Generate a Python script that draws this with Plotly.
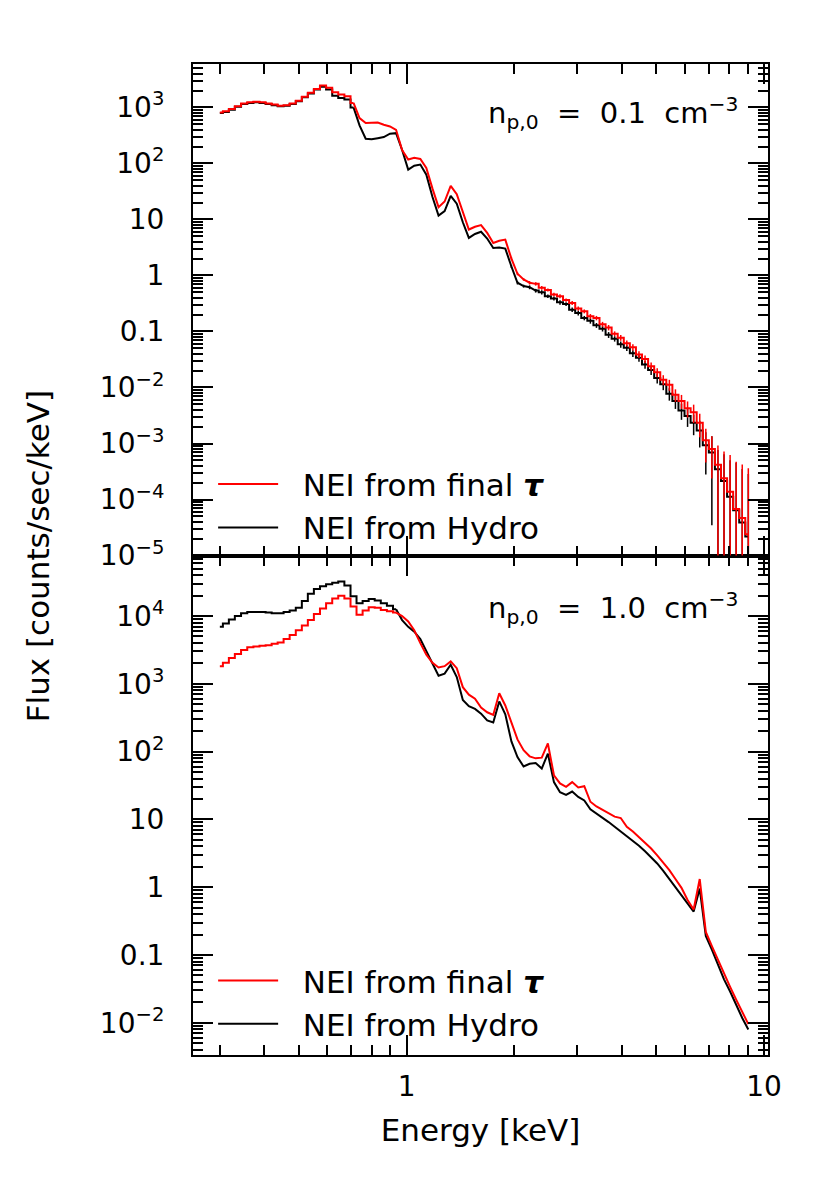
import plotly.graph_objects as go

# ---------------- data ----------------
energy_kev = [
    0.300, 0.312, 0.324, 0.337, 0.351, 0.365, 0.380, 0.395, 0.411, 0.427,
    0.444, 0.461, 0.480, 0.499, 0.519, 0.539, 0.561, 0.583, 0.607, 0.631,
    0.656, 0.683, 0.710, 0.738, 0.768, 0.798, 0.830, 0.863, 0.898, 0.934,
    0.971, 1.010, 1.050, 1.092, 1.135, 1.181, 1.228, 1.277, 1.328, 1.381,
    1.436, 1.493, 1.553, 1.615, 1.680, 1.747, 1.816, 1.888, 1.964, 2.042,
    2.124, 2.208, 2.296, 2.388, 2.484, 2.583, 2.686, 2.793, 2.905, 3.021,
    3.141, 3.267, 3.397, 3.533, 3.674, 3.820, 3.973, 4.131, 4.296, 4.468,
    4.646, 4.832, 5.025, 5.225, 5.434, 5.651, 5.876, 6.111, 6.355, 6.609,
    6.873, 7.147, 7.432, 7.729, 8.038, 8.359, 8.692, 9.039]

# top panel (n_p,0 = 0.1 cm^-3): log10 flux
top_final_log = [
    2.91, 2.93, 2.97, 3.02, 3.07, 3.09, 3.10, 3.09, 3.07, 3.05,
    3.03, 3.04, 3.07, 3.12, 3.19, 3.26, 3.33, 3.39, 3.35, 3.27,
    3.23, 3.20, 3.08, 2.81, 2.72, 2.72, 2.73, 2.69, 2.66, 2.60,
    2.24, 2.07, 2.10, 2.08, 1.92, 1.55, 1.22, 1.32, 1.60, 1.45,
    1.12, 0.82, 0.87, 0.90, 0.76, 0.58, 0.62, 0.64, 0.30, 0.03,
    -0.07, -0.13, -0.15, -0.22, -0.26, -0.34, -0.37, -0.44, -0.49, -0.59,
    -0.64, -0.73, -0.76, -0.87, -0.93, -1.04, -1.11, -1.21, -1.28, -1.41,
    -1.49, -1.62, -1.73, -1.86, -1.95, -2.13, -2.24, -2.37, -2.44, -2.63,
    -2.94, -3.10, -3.38, -3.62, -3.86, -4.17, -4.33, -4.62]
top_hydro_log = [
    2.90, 2.92, 2.96, 3.01, 3.06, 3.08, 3.09, 3.08, 3.06, 3.04,
    3.02, 3.03, 3.06, 3.11, 3.18, 3.25, 3.32, 3.37, 3.32, 3.21,
    3.17, 3.14, 3.00, 2.68, 2.44, 2.43, 2.45, 2.47, 2.53, 2.54,
    2.24, 1.89, 1.96, 1.98, 1.80, 1.40, 1.07, 1.15, 1.42, 1.28,
    0.95, 0.67, 0.74, 0.78, 0.66, 0.49, 0.50, 0.48, 0.16, -0.13,
    -0.19, -0.21, -0.27, -0.30, -0.37, -0.41, -0.48, -0.51, -0.61, -0.67,
    -0.76, -0.81, -0.89, -0.95, -1.06, -1.13, -1.23, -1.29, -1.39, -1.47,
    -1.59, -1.69, -1.83, -1.94, -2.11, -2.24, -2.41, -2.51, -2.63, -2.77,
    -3.03, -3.16, -3.46, -3.67, -3.95, -4.19, -4.41, -4.66]
# relative 1-sigma errors (fraction of flux)
top_final_err_frac = [0.0] * 48 + [
    0.05, 0.06, 0.05, 0.07, 0.06, 0.08, 0.06, 0.07, 0.08, 0.07,
    0.08, 0.09, 0.08, 0.10, 0.09, 0.10, 0.11, 0.10, 0.12, 0.12,
    0.13, 0.14, 0.15, 0.16, 0.18, 0.20, 0.22, 0.25, 0.28, 0.32,
    0.36, 0.45, 0.60, 0.70, 1.2, 2.0, 3.5, 6.0, 8.0, 14.0]
top_hydro_err_frac = [0.0] * 48 + [
    0.06, 0.07, 0.06, 0.08, 0.07, 0.09, 0.07, 0.08, 0.09, 0.08,
    0.09, 0.10, 0.09, 0.11, 0.10, 0.11, 0.12, 0.11, 0.13, 0.13,
    0.14, 0.15, 0.16, 0.18, 0.20, 0.22, 0.25, 0.28, 0.32, 0.36,
    0.40, 0.50, 0.70, 0.95, 1.2, 2.0, 3.5, 6.0, 8.0, 12.0]

# bottom panel (n_p,0 = 1.0 cm^-3): log10 flux
bot_final_log = [
    3.26, 3.31, 3.38, 3.44, 3.50, 3.54, 3.55, 3.56, 3.57, 3.59,
    3.61, 3.66, 3.72, 3.79, 3.86, 3.94, 4.03, 4.11, 4.19, 4.26,
    4.30, 4.26, 4.14, 4.02, 4.08, 4.13, 4.12, 4.09, 4.07, 4.05,
    4.00, 3.92, 3.79, 3.60, 3.43, 3.31, 3.24, 3.26, 3.33, 3.23,
    2.95, 2.84, 2.78, 2.65, 2.58, 2.54, 2.86, 2.68, 2.42, 2.18,
    2.02, 1.93, 1.90, 1.91, 2.12, 1.65, 1.53, 1.48, 1.55, 1.47,
    1.49, 1.26, 1.19, 1.14, 1.08, 1.04, 1.02, 0.89, 0.82, 0.74,
    0.66, 0.57, 0.47, 0.36, 0.25, 0.12, -0.01, -0.19, -0.33, 0.12,
    -0.66, -0.87, -1.07, -1.29, -1.47, -1.66, -1.85, -2.02]
bot_hydro_log = [
    3.84, 3.89, 3.95, 4.00, 4.04, 4.06, 4.06, 4.06, 4.05, 4.04,
    4.04, 4.06, 4.08, 4.12, 4.22, 4.33, 4.40, 4.44, 4.47, 4.49,
    4.51, 4.45, 4.29, 4.19, 4.22, 4.25, 4.23, 4.19, 4.15, 4.10,
    3.94, 3.84, 3.77, 3.66, 3.48, 3.31, 3.12, 3.15, 3.28, 3.10,
    2.76, 2.67, 2.63, 2.56, 2.46, 2.43, 2.74, 2.55, 2.15, 1.92,
    1.78, 1.82, 1.83, 1.75, 1.97, 1.55, 1.40, 1.36, 1.41, 1.33,
    1.28, 1.15, 1.09, 1.03, 0.96, 0.89, 0.82, 0.76, 0.69, 0.61,
    0.53, 0.44, 0.35, 0.24, 0.12, 0.00, -0.12, -0.25, -0.36, -0.02,
    -0.72, -0.92, -1.13, -1.36, -1.54, -1.74, -1.93, -2.10]

series_names = ["\u00a0\u00a0NEI from final <b><i>τ</i></b>", "\u00a0\u00a0NEI from Hydro"]
panel_labels = ["n<sub>p,0</sub>\u00a0 = \u00a00.1\u00a0 cm<sup>−3</sup>",
                "n<sub>p,0</sub>\u00a0 = \u00a01.0\u00a0 cm<sup>−3</sup>"]
y_title = "Flux [counts/sec/keV]"
x_title = "Energy [keV]"

x_major = [1, 10]
x_major_text = ["1", "10"]
x_minor = [0.3, 0.4, 0.5, 0.6, 0.7, 0.8, 0.9, 2, 3, 4, 5, 6, 7, 8, 9]

top_ytick_vals = [1e-5, 1e-4, 1e-3, 1e-2, 0.1, 1, 10, 100, 1000]
top_ytick_text = ["10<sup>−5</sup>", "10<sup>−4</sup>", "10<sup>−3</sup>",
                  "10<sup>−2</sup>", "0.1", "1", "10", "10<sup>2</sup>",
                  "10<sup>3</sup>"]
bot_ytick_vals = [1e-2, 0.1, 1, 10, 100, 1000, 1e4]
bot_ytick_text = ["10<sup>−2</sup>", "0.1", "1", "10", "10<sup>2</sup>",
                  "10<sup>3</sup>", "10<sup>4</sup>"]

# ---------------- figure ----------------
RED = "#ff0000"
BLACK = "#000000"
FONT = "DejaVu Sans"
FS = 28

# how each panel's spectrum is drawn: (first bin, last bin, line shape)
TOP_SEGMENTS = [(0, 22, "hvh"), (22, 52, "linear"), (52, 87, "hvh")]
BOT_SEGMENTS = [(0, 29, "hvh"), (29, 87, "linear")]


def flux(logs):
    return [10 ** v for v in logs]


fig = go.Figure()


def add_series(logs, name, color, rank, legend, xa, ya, segments, err_frac=None):
    vals = flux(logs)
    for k, (a, b, shape) in enumerate(segments):
        err = None
        if err_frac is not None and any(f > 0 for f in err_frac[a:b + 1]):
            err = dict(type="data",
                       array=[f * v for f, v in zip(err_frac[a:b + 1], vals[a:b + 1])],
                       color=color, thickness=1.5, width=0)
        fig.add_trace(go.Scatter(
            x=energy_kev[a:b + 1], y=vals[a:b + 1], mode="lines",
            line=dict(color=color, width=2, shape=shape),
            name=name, legend=legend, legendrank=rank, legendgroup=legend + name,
            showlegend=(k == 0), xaxis=xa, yaxis=ya, error_y=err))


# top panel
add_series(top_hydro_log, series_names[1], BLACK, 2, "legend", "x2", "y2",
           TOP_SEGMENTS, top_hydro_err_frac)
add_series(top_final_log, series_names[0], RED, 1, "legend", "x2", "y2",
           TOP_SEGMENTS, top_final_err_frac)
# bottom panel
add_series(bot_hydro_log, series_names[1], BLACK, 2, "legend2", "x", "y", BOT_SEGMENTS)
add_series(bot_final_log, series_names[0], RED, 1, "legend2", "x", "y", BOT_SEGMENTS)

tickfont = dict(family=FONT, size=FS, color="black")
x_common = dict(
    type="log", range=[-0.598, 1.0112], showline=True, linecolor="black", linewidth=2,
    mirror="allticks", ticks="inside", ticklen=20, tickwidth=2, tickcolor="black",
    tickmode="array", tickvals=x_major, ticktext=x_major_text, showgrid=False,
    zeroline=False, tickfont=tickfont,
    minor=dict(ticks="inside", ticklen=10, tickwidth=2, tickcolor="black",
               tickmode="array", tickvals=x_minor, showgrid=False))

y_minor_vals = [m * 10 ** e for e in range(-6, 6) for m in range(2, 10)]
y_common = dict(
    type="log", showline=True, linecolor="black", linewidth=2, mirror="allticks",
    ticks="inside", ticklen=20, tickwidth=2, tickcolor="black", tickmode="array",
    showgrid=False, zeroline=False, tickfont=tickfont, ticklabelstandoff=21,
    minor=dict(ticks="inside", ticklen=10, tickwidth=1.5, tickcolor="black",
               tickmode="array", tickvals=y_minor_vals, showgrid=False))

LEG_FS = 31
fig.update_layout(
    width=830, height=1180,
    margin=dict(l=185, r=70, t=56, b=133),
    paper_bgcolor="white", plot_bgcolor="white",
    font=dict(family=FONT, size=FS, color="black"),
    xaxis=dict(**x_common, anchor="y", domain=[0, 1], ticklabelstandoff=5,
               title=dict(text=x_title, font=dict(family=FONT, size=31), standoff=18)),
    xaxis2=dict(**x_common, anchor="y2", matches="x", showticklabels=False),
    yaxis=dict(**y_common, anchor="x", domain=[0, 0.504], range=[-2.476, 4.892],
               tickvals=bot_ytick_vals, ticktext=bot_ytick_text),
    yaxis2=dict(**y_common, anchor="x2", domain=[0.504, 1], range=[-5, 3.775],
                tickvals=top_ytick_vals, ticktext=top_ytick_text),
    legend=dict(x=0.035, y=0.603, xanchor="left", yanchor="top", bgcolor="rgba(0,0,0,0)",
                font=dict(family=FONT, size=LEG_FS), itemwidth=60, tracegroupgap=0),
    legend2=dict(x=0.035, y=0.102, xanchor="left", yanchor="top", bgcolor="rgba(0,0,0,0)",
                 font=dict(family=FONT, size=LEG_FS), itemwidth=60, tracegroupgap=0),
    showlegend=True,
    annotations=[
        dict(text=panel_labels[0], xref="paper", yref="paper", x=0.951, y=0.951,
             xanchor="right", yanchor="middle", showarrow=False,
             font=dict(family=FONT, size=29)),
        dict(text=panel_labels[1], xref="paper", yref="paper", x=0.951, y=0.451,
             xanchor="right", yanchor="middle", showarrow=False,
             font=dict(family=FONT, size=29)),
        dict(text=y_title, xref="paper", yref="paper", x=-0.27, y=0.503,
             xanchor="center", yanchor="middle", textangle=-90, showarrow=False,
             font=dict(family=FONT, size=31)),
    ],
)

fig.write_html("out.html")
